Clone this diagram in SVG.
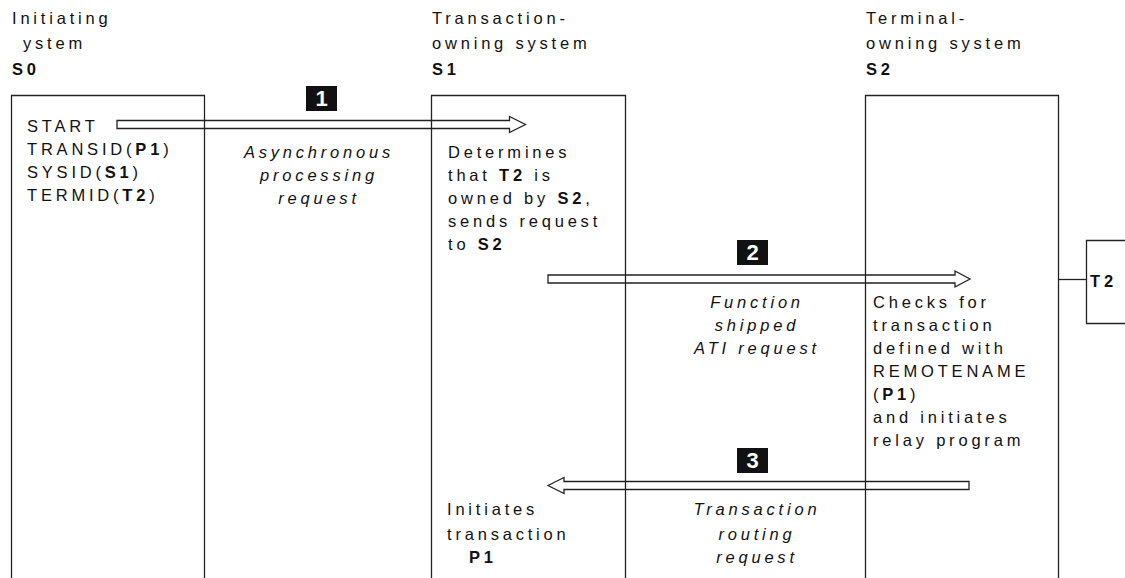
<svg xmlns="http://www.w3.org/2000/svg" width="1125" height="578" viewBox="0 0 1125 578">
<style>
text{font-family:"Liberation Sans",Arial,Helvetica,sans-serif;font-size:16.5px;letter-spacing:3.8px;fill:#111}
.i{font-style:italic}
.c{text-anchor:middle}
.b{font-weight:bold}
.box{fill:none;stroke:#222;stroke-width:1.3}
.arr{fill:none;stroke:#222;stroke-width:1.3;stroke-linejoin:miter}
.num{fill:#111}
.numt{fill:#fff;font-weight:bold;font-size:22px;letter-spacing:0;text-anchor:middle}
</style>
<rect width="1125" height="578" fill="#fff"/>
<g id="S0">
<text x="12" y="24">Initiating</text>
<text x="23" y="49">ystem</text>
<text x="12" y="75" class="b">S0</text>
<path class="box" d="M11.5,580 V95.5 H204.5 V580"/>
<text x="27" y="132">START</text>
<text x="27" y="155">TRANSID(<tspan class="b">P1</tspan>)</text>
<text x="27" y="178">SYSID(<tspan class="b">S1</tspan>)</text>
<text x="27" y="201">TERMID(<tspan class="b">T2</tspan>)</text>
</g>
<g id="S1">
<text x="432" y="24">Transaction-</text>
<text x="432" y="49">owning system</text>
<text x="432" y="75" class="b">S1</text>
<path class="box" d="M431.5,580 V95.5 H625.5 V580"/>
<text x="448" y="158">Determines</text>
<text x="448" y="181">that <tspan class="b">T2</tspan> is</text>
<text x="448" y="204">owned by <tspan class="b">S2</tspan>,</text>
<text x="448" y="227">sends request</text>
<text x="448" y="250">to <tspan class="b">S2</tspan></text>
<text x="447" y="515">Initiates</text>
<text x="447" y="540">transaction</text>
<text x="469" y="563" class="b">P1</text>
</g>
<g id="S2">
<text x="866" y="24">Terminal-</text>
<text x="866" y="49">owning system</text>
<text x="866" y="75" class="b">S2</text>
<path class="box" d="M865.5,580 V95.5 H1058.5 V580"/>
<text x="873" y="308">Checks for</text>
<text x="873" y="331">transaction</text>
<text x="873" y="354">defined with</text>
<text x="873" y="377">REMOTENAME</text>
<text x="873" y="400">(<tspan class="b">P1</tspan>)</text>
<text x="873" y="423">and initiates</text>
<text x="873" y="446">relay program</text>
</g>
<g id="T2">
<path class="box" d="M1127,240.5 H1086.5 V323.5 H1127"/>
<text x="1090" y="287" class="b">T2</text>
</g>
<g id="label1">
<rect class="num" x="306" y="86" width="31" height="25"/>
<text class="numt" x="321.5" y="106">1</text>
<text class="i c" x="319" y="158">Asynchronous</text>
<text class="i c" x="319" y="181">processing</text>
<text class="i c" x="319" y="204">request</text>
</g>
<g id="label2">
<rect class="num" x="737" y="240" width="31" height="25"/>
<text class="numt" x="752.5" y="260">2</text>
<text class="i c" x="757" y="308">Function</text>
<text class="i c" x="757" y="331">shipped</text>
<text class="i c" x="757" y="354">ATI request</text>
</g>
<g id="label3">
<rect class="num" x="737" y="448" width="31" height="25"/>
<text class="numt" x="752.5" y="468">3</text>
<text class="i c" x="757" y="515">Transaction</text>
<text class="i c" x="757" y="540">routing</text>
<text class="i c" x="757" y="563">request</text>
</g>
<g id="connectors">
<path class="arr" d="M117,120.5 H509.5 V116.5 L525.5,124.5 L509.5,132.5 V128.5 H117 Z"/>
<path class="arr" d="M548,275 H955 V271 L970,279 L955,287 V283 H548 Z"/>
<path class="arr" d="M548,485.5 L564,477.5 V481.5 H969 V489.5 H564 V493.5 Z"/>
<path class="box" d="M1058.5,279.5 H1086.5"/>
</g>
</svg>
